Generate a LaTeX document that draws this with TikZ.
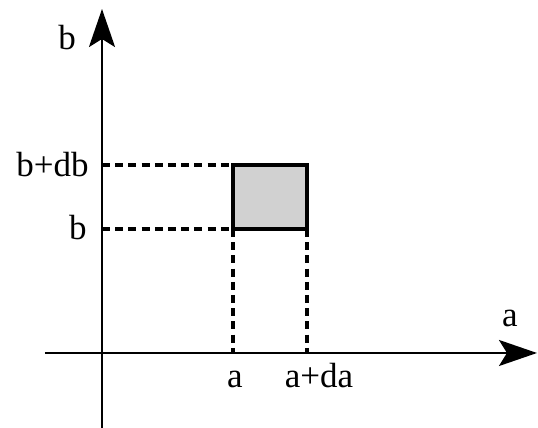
\documentclass[tikz,border=0pt]{standalone}
\usepackage{fontspec}
\setmainfont{Liberation Serif}
\usetikzlibrary{arrows.meta, positioning}
\tikzset{
    eixo/.style={line width=1.2pt, -{Stealth[length=19pt, width=13pt, inset=4pt]}},
    tracejado/.style={line width=1.6pt, dash pattern=on 4pt off 2.6pt},
    rotulo/.style={inner sep=0pt, font=\fontsize{17.5}{20}\selectfont},
    elemento/.style={line width=1.8pt, fill=black!18},
}

\begin{document}
\begin{tikzpicture}[x=0.5pt,y=0.5pt]
\useasboundingbox (0,0) rectangle (538,428);
% eixos
\coordinate (Bbot) at (102,0);
\coordinate (Btop) at (102,419);
\coordinate (Aleft) at (45,75);
\coordinate (Aright) at (537,75);
\draw[eixo] (Bbot) -- (Btop);
\draw[eixo] (Aleft) -- (Aright);
% elemento de area
\coordinate (P1) at (233,199);
\coordinate (P2) at (307,199);
\coordinate (P3) at (307,263);
\coordinate (P4) at (233,263);
\coordinate (Yb) at (102,199);
\coordinate (Ydb) at (102,263);
\coordinate (Xa) at (233,75);
\coordinate (Xda) at (307,75);
\draw[tracejado] (Yb) -- (P1);
\draw[tracejado] (Ydb) -- (P4);
\draw[tracejado] (P1) -- (Xa);
\draw[tracejado] (P2) -- (Xda);
\draw[elemento] (P1) rectangle (P3);
% rotulos
\node[rotulo, anchor=base] (lb) at (67,378) {b};
\node[rotulo, anchor=base] (la) at (510,101) {a};
\node[rotulo, anchor=base east] (lbdb) at (89,251) {b+db};
\node[rotulo, anchor=base east] (lbb) at (87,188) {b};
\node[rotulo, anchor=base] (laa) at (235,40) {a};
\node[rotulo, anchor=base] (lada) at (319,40) {a+da};
\end{tikzpicture}
\end{document}
